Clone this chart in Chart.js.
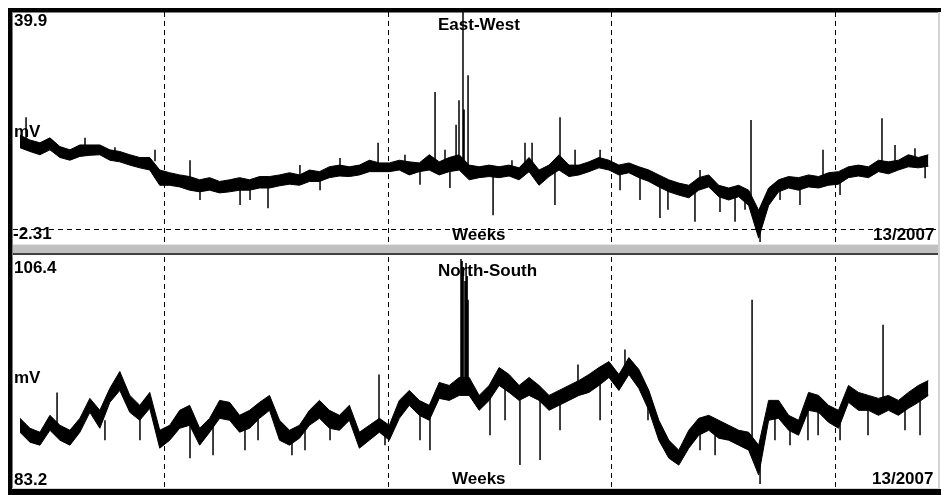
<!DOCTYPE html>
<html>
<head>
<meta charset="utf-8">
<script src="https://cdn.jsdelivr.net/npm/chart.js@4.4.0/dist/chart.umd.min.js"></script>
<style>
  body { margin: 0; background: #fff; width: 945px; height: 495px; position: relative; overflow: hidden;
         font-family: "Liberation Sans", Arial, sans-serif; }
  .blk { position: absolute; }
  canvas { position: absolute; }
  .lbl { position: absolute; font-size: 17px; font-weight: bold; line-height: 17px; color: #000; white-space: nowrap; z-index: 5; }
</style>
</head>
<body>
<!-- frame -->
<div class="blk" style="left:8px;top:8px;width:933px;height:4px;background:#000"></div>
<div class="blk" style="left:12px;top:12px;width:927px;height:1px;background:#808080"></div>
<div class="blk" style="left:8px;top:8px;width:4px;height:487px;background:#000"></div>
<div class="blk" style="left:12px;top:12px;width:1px;height:477px;background:#808080"></div>
<div class="blk" style="left:938px;top:12px;width:2px;height:477px;background:#d4d4d4"></div>
<div class="blk" style="left:12px;top:488px;width:928px;height:1px;background:#d4d4d4"></div>
<div class="blk" style="left:8px;top:489px;width:933px;height:6px;background:#000"></div>
<!-- divider between panels -->
<div class="blk" style="left:13px;top:244px;width:925px;height:1px;background:#e6e6e6;z-index:3"></div>
<div class="blk" style="left:13px;top:245px;width:925px;height:8px;background:#c0c0c0;z-index:3"></div>
<div class="blk" style="left:13px;top:253px;width:925px;height:2px;background:#404040;z-index:3"></div>

<canvas id="ew" width="925" height="230" style="left:13px;top:12px"></canvas>
<canvas id="ns" width="925" height="231" style="left:13px;top:257px"></canvas>

<div class="lbl" style="left:14px;top:12px">39.9</div>
<div class="lbl" style="left:438px;top:16px">East-West</div>
<div class="lbl" style="left:14px;top:123px">mV</div>
<div class="lbl" style="left:13px;top:225px">-2.31</div>
<div class="lbl" style="left:452px;top:226px">Weeks</div>
<div class="lbl" style="left:873px;top:226px">13/2007</div>

<div class="lbl" style="left:14px;top:259px">106.4</div>
<div class="lbl" style="left:438px;top:262px">North-South</div>
<div class="lbl" style="left:14px;top:369px">mV</div>
<div class="lbl" style="left:14px;top:471px">83.2</div>
<div class="lbl" style="left:452px;top:470px">Weeks</div>
<div class="lbl" style="left:872px;top:470px">13/2007</div>

<script>
// time axis in hours, week boundaries drawn as dashed lines
const hoursSpan = 695;
const weekHours = [114, 282, 450, 618];
const sampleStart = 5.25;
const sampleStep = 7.5;

// East-West (mV): upper and lower edge of the noisy trace per sample
const ewHigh = [17.3, 16.4, 15.9, 16.8, 15.2, 14.6, 15.5, 15.5, 15.5, 14.6,
  14.3, 13.7, 13.2, 13.2, 10.9, 10.4, 10.0, 9.7, 9.1, 9.5,
  8.8, 9.1, 9.5, 9.1, 9.7, 9.7, 10.0, 10.4, 10.0, 10.9,
  10.6, 11.5, 11.8, 11.5, 11.8, 12.7, 12.2, 12.2, 12.7, 12.4,
  12.2, 13.7, 12.4, 13.2, 13.7, 11.8, 11.5, 11.8, 11.5, 11.8,
  11.3, 13.2, 10.9, 11.8, 13.7, 11.8, 11.8, 12.4, 13.2, 12.7,
  11.8, 12.2, 11.5, 10.9, 10.0, 9.1, 8.5, 8.1, 9.5, 10.0,
  8.1, 7.6, 8.1, 7.2, 3.5, 7.6, 9.1, 9.7, 9.5, 10.0,
  9.7, 10.4, 10.6, 11.5, 11.8, 11.5, 12.7, 12.4, 12.7, 13.7,
  13.2, 13.7];
const ewLow = [15.0, 14.3, 13.7, 14.6, 13.2, 12.7, 13.4, 13.6, 13.7, 12.7,
  12.4, 11.8, 11.3, 10.9, 8.1, 8.1, 7.8, 7.2, 6.9, 7.2,
  6.7, 6.9, 7.2, 7.2, 7.6, 7.6, 8.0, 8.3, 8.1, 8.8,
  8.8, 9.5, 9.8, 9.7, 10.0, 10.6, 10.6, 10.6, 10.9, 10.0,
  10.6, 10.9, 10.0, 10.6, 10.9, 9.1, 9.5, 9.7, 9.5, 9.8,
  9.1, 10.6, 8.1, 9.7, 10.9, 9.7, 10.0, 10.6, 11.3, 10.9,
  10.0, 10.4, 9.5, 8.8, 7.8, 6.9, 6.3, 5.8, 7.2, 7.8,
  6.0, 5.4, 6.0, 4.4, -1.6, 4.4, 6.9, 7.6, 7.2, 7.8,
  7.6, 8.1, 8.3, 9.5, 9.8, 9.5, 10.6, 10.2, 10.9, 11.5,
  11.3, 11.6];
// spikes: [hour, from, to]
const ewSpikes = [[9.8, 16, 20.6], [54.1, 15, 16.8], [76.6, 14, 15.1], [106.7, 12.5, 14.6],
  [133.0, 8.5, 12.7], [140.5, 8, 5.4], [170.6, 8, 4.5], [178.1, 8.5, 5.4],
  [191.6, 8.5, 3.9], [215.6, 9.5, 11.8], [230.7, 9.5, 7.2], [245.7, 11, 13.1],
  [274.3, 11.5, 15.9], [294.5, 11.5, 13.7], [305.8, 11, 8.2], [317.1, 12, 25.2],
  [324.6, 12, 14.6], [328.3, 12, 7.6], [332.9, 12.5, 19.2], [335.1, 12.5, 23.7],
  [338.1, 12.5, 39.9], [338.9, 12.5, 22.0], [341.9, 12, 28.3], [360.7, 10.5, 2.6],
  [374.9, 10.5, 12.7], [384.7, 11, 15.9], [390.0, 11.5, 15.9], [407.2, 10.5, 4.5],
  [411.0, 12, 20.6], [422.3, 10.5, 14.6], [441.1, 12, 14.6], [456.1, 11, 7.2],
  [471.1, 10, 5.4], [486.1, 9, 2.1], [492.1, 8.5, 3.6], [512.4, 8.5, 1.4],
  [516.2, 9, 10.9], [531.2, 7.5, 3.2], [542.5, 7, 1.4], [550.0, 7, 3.6],
  [554.5, 6, 20.1], [561.3, 3, -2.31], [576.3, 8, 5.4], [591.3, 8.5, 4.5],
  [608.6, 9, 14.6], [621.4, 9, 6.3], [652.9, 11.5, 20.4], [662.7, 11.5, 15.5],
  [677.7, 12.5, 14.9], [685.3, 12.5, 9.4]];

// North-South (mV)
const nsHigh = [90.2, 89.2, 88.8, 90.5, 89.5, 89.0, 90.2, 92.2, 91.0, 93.2,
  94.9, 92.5, 91.5, 92.8, 89.0, 89.5, 91.0, 91.5, 89.2, 90.2,
  92.0, 91.8, 90.5, 91.0, 91.8, 92.5, 90.0, 89.0, 89.5, 91.0,
  92.0, 91.0, 90.5, 91.5, 88.8, 89.5, 90.2, 89.5, 92.0, 93.0,
  92.0, 91.5, 93.8, 93.5, 94.3, 94.3, 92.5, 93.5, 95.3, 94.6,
  93.5, 94.3, 93.5, 92.5, 93.0, 93.5, 94.0, 94.6, 95.3, 95.9,
  94.6, 96.3, 95.1, 93.0, 90.0, 88.0, 87.0, 89.0, 90.2, 90.5,
  90.0, 89.5, 89.0, 88.8, 87.5, 92.0, 92.0, 90.5, 90.0, 92.8,
  92.5, 91.5, 91.0, 93.5, 92.8, 92.5, 92.2, 92.5, 92.0, 92.8,
  93.5, 94.0];
const nsLow = [88.8, 87.8, 87.5, 89.0, 88.0, 87.5, 88.8, 90.8, 89.2, 91.8,
  93.0, 90.8, 90.0, 91.2, 87.2, 88.0, 89.2, 89.5, 87.5, 88.8,
  90.2, 90.0, 88.8, 89.2, 90.2, 91.0, 88.0, 87.5, 88.2, 89.5,
  90.2, 89.2, 89.0, 90.0, 87.2, 88.0, 88.8, 88.0, 90.2, 91.5,
  90.5, 90.0, 92.2, 92.0, 92.5, 92.5, 91.0, 92.0, 93.5, 92.8,
  92.0, 92.5, 92.0, 91.0, 91.5, 92.0, 92.5, 92.8, 93.5, 94.3,
  93.0, 94.6, 93.2, 91.0, 88.0, 86.2, 85.5, 87.2, 88.5, 89.0,
  88.2, 88.0, 87.5, 87.0, 84.5, 90.0, 90.2, 89.0, 88.5, 91.0,
  90.8, 89.8, 89.2, 91.8, 91.0, 91.0, 90.5, 91.0, 90.5, 91.2,
  91.8, 92.5];
const nsSpikes = [[33.1, 89.5, 92.8], [69.1, 90, 88.0], [95.4, 90.5, 88.0], [133.0, 90.5, 86.2],
  [150.3, 90, 86.5], [174.3, 90, 87.0], [184.1, 91, 88.0], [209.6, 88.5, 86.5],
  [219.4, 89, 87.0], [238.2, 90, 88.0], [275.0, 89.5, 94.6], [279.5, 89, 87.5],
  [305.8, 91, 88.0], [313.3, 91, 87.0], [336.6, 93.5, 106.2], [337.4, 93.5, 106.0],
  [338.2, 93.5, 105.0], [339.6, 93.5, 104.0], [340.4, 93.5, 105.8], [341.2, 93.5, 104.5],
  [341.9, 93.5, 102.1], [358.4, 92.5, 88.5], [369.7, 94, 90.0], [380.9, 93, 85.5],
  [396.0, 93, 86.0], [411.0, 92, 89.0], [424.5, 93, 95.6], [441.1, 94, 90.0],
  [459.8, 95.5, 97.1], [477.1, 93, 90.0], [516.2, 89, 87.0], [527.5, 89, 86.5],
  [555.3, 88, 102.1], [561.3, 86, 83.6], [572.5, 91, 88.0], [583.8, 89.5, 87.5],
  [597.3, 91.5, 88.0], [604.9, 91.5, 88.5], [621.4, 90, 88.0], [642.4, 91.5, 88.5],
  [653.7, 92, 99.6], [670.2, 91.5, 89.0], [681.5, 92.5, 88.5]];

const ewRange = [-2.31, 39.9];
const nsRange = [83.2, 106.4];

function toPoints(arr) {
  return arr.map((v, i) => ({ x: sampleStart + i * sampleStep, y: v }));
}

function spikePoints(list) {
  const pts = [];
  list.forEach(([h, a, b]) => { pts.push({ x: h, y: a }, { x: h, y: b }, { x: h, y: null }); });
  return pts;
}

function makePanel(id, high, low, spikes, range, zeroLine) {
  const ctx = document.getElementById(id);
  return new Chart(ctx, {
    type: 'line',
    data: {
      datasets: [
        { data: toPoints(high), borderColor: '#000', backgroundColor: '#000', borderWidth: 1, fill: '+1' },
        { data: toPoints(low), borderColor: '#000', borderWidth: 1, fill: false },
        { data: spikePoints(spikes), borderColor: '#000', borderWidth: 1.5, fill: false, spanGaps: false },
      ],
    },
    options: {
      responsive: false, animation: false,
      layout: { padding: 0 },
      elements: { point: { radius: 0 }, line: { tension: 0 } },
      plugins: { legend: { display: false }, tooltip: { enabled: false } },
      scales: {
        x: {
          type: 'linear', min: 0, max: hoursSpan,
          ticks: { display: false },
          grid: { color: '#000', lineWidth: 1, drawTicks: false },
          border: { display: false, dash: [5, 4] },
          afterBuildTicks: s => { s.ticks = weekHours.map(v => ({ value: v })); },
        },
        y: {
          min: range[0], max: range[1],
          ticks: { display: false },
          grid: { display: zeroLine, color: '#000', lineWidth: 1, drawTicks: false },
          border: { display: false, dash: [5, 4] },
          afterBuildTicks: s => { s.ticks = zeroLine ? [{ value: 0 }] : []; },
        },
      },
    },
  });
}

makePanel('ew', ewHigh, ewLow, ewSpikes, ewRange, true);
makePanel('ns', nsHigh, nsLow, nsSpikes, nsRange, false);
</script>
</body>
</html>
